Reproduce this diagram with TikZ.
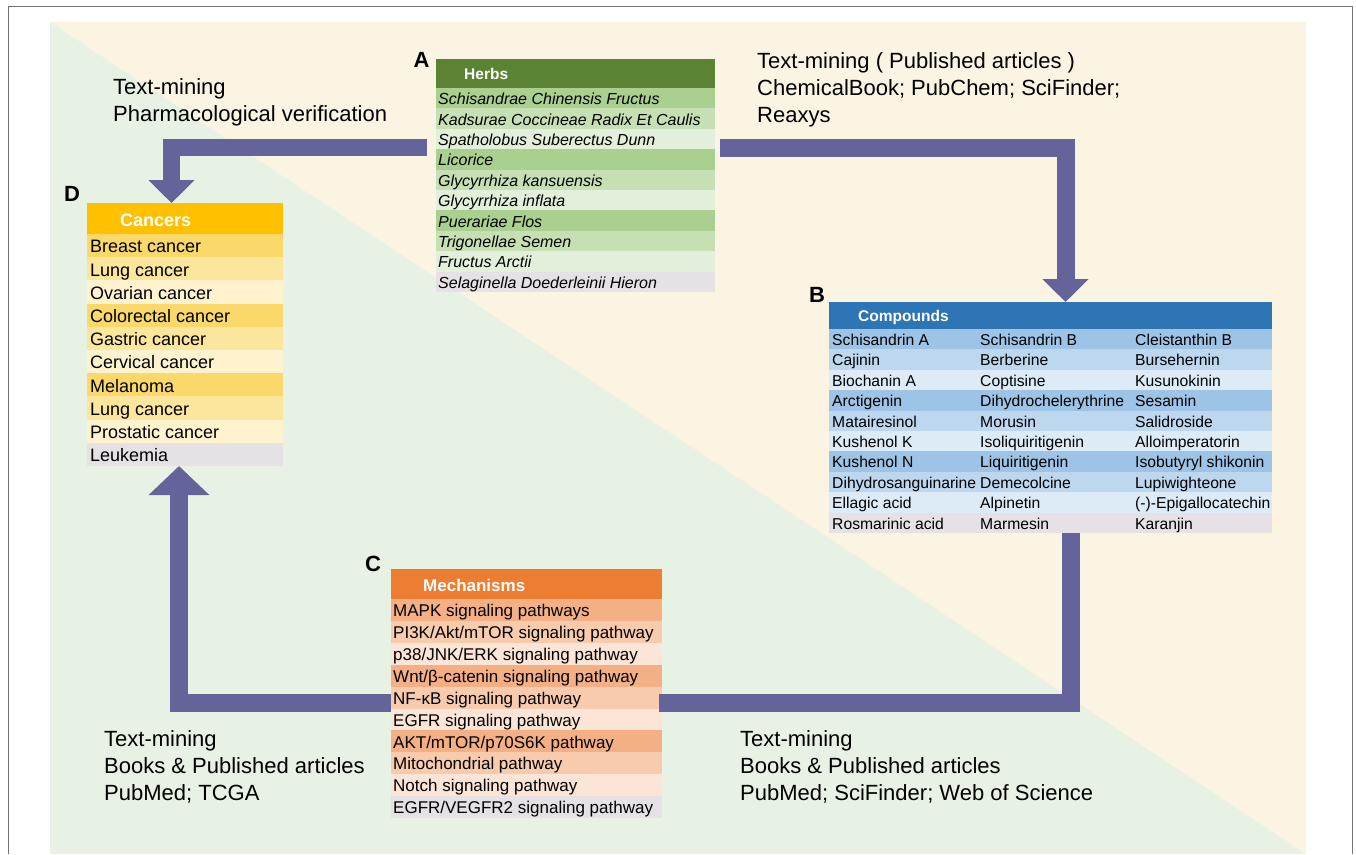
\documentclass[tikz,border=0pt]{standalone}
\usepackage{fontspec}
\setmainfont{Liberation Sans}
\usetikzlibrary{arrows.meta,positioning}

\definecolor{creambg}{HTML}{FBF4E2}
\definecolor{greenbg}{HTML}{E8F2E4}
\definecolor{flowc}{HTML}{65649A}
\definecolor{lastrow}{HTML}{E6E1E4}
\definecolor{herbhd}{HTML}{5B8334}
\definecolor{herbA}{HTML}{A9D08E}
\definecolor{herbB}{HTML}{C6E0B4}
\definecolor{herbC}{HTML}{E2EFDA}
\definecolor{canchd}{HTML}{FFC000}
\definecolor{cancA}{HTML}{FAD86A}
\definecolor{cancB}{HTML}{FCE59D}
\definecolor{cancC}{HTML}{FEF2CF}
\definecolor{cmpdhd}{HTML}{2E75B6}
\definecolor{cmpdA}{HTML}{9DC3E6}
\definecolor{cmpdB}{HTML}{BDD7EE}
\definecolor{cmpdC}{HTML}{DDEBF7}
\definecolor{mechhd}{HTML}{ED7D31}
\definecolor{mechA}{HTML}{F4B084}
\definecolor{mechB}{HTML}{F8CBAD}
\definecolor{mechC}{HTML}{FCE4D6}

\tikzset{
	frame/.style={inner sep=0pt, outer sep=0pt, anchor=north west},
	tabhead/.style={anchor=base west, inner sep=0pt, text=white},
	cell/.style={anchor=base west, inner sep=0pt},
	lbl/.style={anchor=north west, align=left, inner sep=0pt, font=\fontsize{22}{27}\selectfont},
	tag/.style={inner sep=0pt, font=\fontsize{22}{22}\selectfont\bfseries},
	flow/.style={draw=flowc, line width=18pt}
}

\begin{document}
\begin{tikzpicture}[x=1pt,y=-1pt]
	\useasboundingbox (0,0) rectangle (1356,854);
	
	% background
	\fill[creambg] (50,22) rectangle (1306,854);
	\fill[greenbg] (50,22) -- (1306,854) -- (50,854) -- cycle;
	\draw[black!55, line width=1pt] (8,854) |- (1352,6) -- (1352,854);
	
	% table frames
	\node[frame, minimum width=279pt, minimum height=233pt] (herbs) at (436,59) {};
	\node[frame, minimum width=196pt, minimum height=263pt] (cancers) at (87,203) {};
	\node[frame, minimum width=443pt, minimum height=231pt] (compounds) at (829,302) {};
	\node[frame, minimum width=271pt, minimum height=249pt] (mechanisms) at (391,569) {};
	
	\node[tag] (tagA) at (421.5,59.5) {A};
	\node[tag] (tagB) at (817,295) {B};
	\node[tag] (tagC) at (373,563.5) {C};
	\node[tag] (tagD) at (72,193.5) {D};
	
	% A: herbs
	\fill[herbhd] (436,59) rectangle (715,88);
	\node[tabhead, font=\fontsize{15.5}{15.5}\selectfont\bfseries] (herbs-hd) at (464,79) {Herbs};
	\foreach \c/\t [count=\i from 0] in {herbA/Schisandrae Chinensis Fructus,
		herbB/Kadsurae Coccineae Radix Et Caulis, herbC/Spatholobus Suberectus Dunn,
		herbA/Licorice, herbB/Glycyrrhiza kansuensis, herbC/Glycyrrhiza inflata,
		herbA/Puerariae Flos, herbB/Trigonellae Semen, herbC/Fructus Arctii,
		lastrow/Selaginella Doederleinii Hieron}{
		\fill[\c] (436,{88+\i*20.4}) rectangle (715,{108.4+\i*20.4});
		\node[cell, font=\fontsize{16}{16}\selectfont\itshape] (herb-\i) at (438,{104.6+\i*20.4}) {\t};
	}
	
	% D: cancers
	\fill[canchd] (87,203) rectangle (283,234);
	\node[tabhead, font=\fontsize{18}{18}\selectfont\bfseries] (cancers-hd) at (120,226) {Cancers};
	\foreach \c/\t [count=\i from 0] in {cancA/Breast cancer, cancB/Lung cancer,
		cancC/Ovarian cancer, cancA/Colorectal cancer, cancB/Gastric cancer,
		cancC/Cervical cancer, cancA/Melanoma, cancB/Lung cancer,
		cancC/Prostatic cancer, lastrow/Leukemia}{
		\fill[\c] (87,{234+\i*23.2}) rectangle (283,{257.2+\i*23.2});
		\node[cell, font=\fontsize{18}{18}\selectfont] (canc-\i) at (90,{252.8+\i*23.2}) {\t};
	}
	
	% B: compounds
	\fill[cmpdhd] (829,302) rectangle (1272,329);
	\node[tabhead, font=\fontsize{15.5}{15.5}\selectfont\bfseries] (compounds-hd) at (858,321) {Compounds};
	\begin{scope}
		\clip (829,302) rectangle (1272,533);
		\foreach \c/\a/\b/\d [count=\i from 0] in {cmpdA/Schisandrin A/Schisandrin B/Cleistanthin B,
			cmpdB/Cajinin/Berberine/Bursehernin, cmpdC/Biochanin A/Coptisine/Kusunokinin,
			cmpdA/Arctigenin/Dihydrochelerythrine/Sesamin, cmpdB/Matairesinol/Morusin/Salidroside,
			cmpdC/Kushenol K/Isoliquiritigenin/Alloimperatorin,
			cmpdA/Kushenol N/Liquiritigenin/Isobutyryl shikonin,
			cmpdB/Dihydrosanguinarine/Demecolcine/Lupiwighteone,
			cmpdC/Ellagic acid/Alpinetin/{(-)-Epigallocatechin},
			lastrow/Rosmarinic acid/Marmesin/Karanjin}{
			\fill[\c] (829,{329+\i*20.4}) rectangle (1272,{349.4+\i*20.4});
			\node[cell, font=\fontsize{15.7}{15.7}\selectfont] (cmpd-\i-a) at (832,{345.5+\i*20.4}) {\a};
			\node[cell, font=\fontsize{15.7}{15.7}\selectfont] (cmpd-\i-b) at (980,{345.5+\i*20.4}) {\b};
			\node[cell, font=\fontsize{15.7}{15.7}\selectfont] (cmpd-\i-c) at (1135,{345.5+\i*20.4}) {\d};
		}
	\end{scope}
	
	% C: mechanisms
	\fill[mechhd] (391,569) rectangle (662,599);
	\node[tabhead, font=\fontsize{17}{17}\selectfont\bfseries] (mechanisms-hd) at (423,591) {Mechanisms};
	\foreach \c/\t [count=\i from 0] in {mechA/MAPK signaling pathways,
		mechB/{PI3K/Akt/mTOR signaling pathway}, mechC/{p38/JNK/ERK signaling pathway},
		mechA/{Wnt/β-catenin signaling pathway}, mechB/NF-κB signaling pathway,
		mechC/EGFR signaling pathway, mechA/{AKT/mTOR/p70S6K pathway},
		mechB/Mitochondrial pathway, mechC/Notch signaling pathway,
		lastrow/{EGFR/VEGFR2 signaling pathway}}{
		\fill[\c] (391,{599+\i*21.9}) rectangle (662,{620.9+\i*21.9});
		\node[cell, font=\fontsize{17}{17}\selectfont] (mech-\i) at (393,{616.6+\i*21.9}) {\t};
	}
	
	% sources
	\node[lbl] (src-d) at (113,78) {Text-mining\\Pharmacological verification};
	\node[lbl] (src-b) at (757,52) {Text-mining ( Published articles )\\ChemicalBook; PubChem; SciFinder;\\Reaxys};
	\node[lbl] (src-cd) at (104,730) {Text-mining\\Books \& Published articles\\PubMed; TCGA};
	\node[lbl] (src-bc) at (740,730) {Text-mining\\Books \& Published articles\\PubMed; SciFinder; Web of Science};
	
	% flows
	\draw[flow, line width=17pt, -{Triangle[width=45pt,length=23pt]}]
		([xshift=-9pt]herbs.west |- 0,147.5) -| ([xshift=-13.5pt]cancers.north);
	\draw[flow, -{Triangle[width=45pt,length=23pt]}]
		([xshift=5pt]herbs.east |- 0,148) -| ([xshift=15pt]compounds.north);
	\draw[flow] ([xshift=20.5pt]compounds.south) |- ([xshift=-3pt]mechanisms.east |- 0,702.5);
	\draw[flow, -{Triangle[width=59pt,length=29pt]}]
		(mechanisms.west |- 0,702.5) -| ([xshift=-6pt]cancers.south);
\end{tikzpicture}
\end{document}
